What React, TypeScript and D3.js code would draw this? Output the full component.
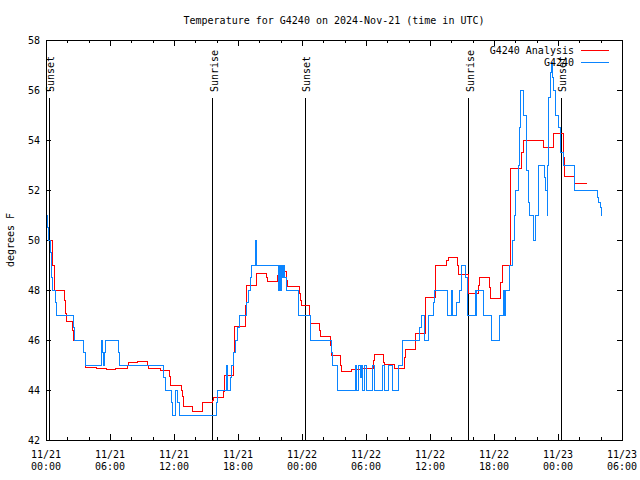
import React from "react";
import * as d3 from "d3";

// hours since 2024-11-21 00:00 UTC
const obsTimes = [
  0.05, 0.15, 0.25, 0.4, 0.5, 0.6, 0.85, 0.97, 2.6, 2.69, 3.5, 3.69,
  5.22, 5.31, 5.4, 5.5, 5.59, 6.78, 6.87, 11.0, 11.19, 11.72, 11.9, 12.1, 12.3, 12.5,
  16.0, 16.1, 16.88, 16.97, 17.31, 17.4, 17.6, 17.78, 17.97, 18.16, 18.81, 19.0, 19.16, 19.25,
  19.6, 19.78, 21.78, 21.87, 21.97, 22.06, 22.16, 22.25, 22.34, 22.5, 23.66, 24.81,
  26.78, 26.87, 27.34, 28.97, 29.15, 29.3, 29.45, 29.55, 29.7, 29.85, 30.0, 30.62, 30.75,
  31.5, 31.7, 32.09, 32.5, 33.0, 33.4, 35.06, 35.22, 35.47, 35.84, 36.31, 36.41, 37.66,
  37.97, 38.03, 38.1, 38.15, 38.53, 38.75, 38.94, 39.31, 39.53, 40.25, 40.31, 40.4, 41.0,
  41.81, 42.5, 42.9, 42.97, 43.05, 43.44, 43.69, 43.78, 43.88, 44.06, 44.28, 44.37, 44.53,
  44.75, 45.03, 45.19, 45.37, 45.69, 45.91, 46.16, 46.78, 46.87, 46.97, 47.03, 47.09, 47.25,
  47.41, 47.5, 47.62, 47.72, 48.03, 48.19, 48.28, 48.5, 49.53, 49.59, 51.72, 51.84, 51.94,
  52.09, 52.15,
];
const obsTemps = [
  51, 50.5, 50, 49.5, 48.5, 48, 47.5, 47, 46.5, 46, 45.5, 45,
  46, 45.5, 45, 45.5, 46, 45.5, 45, 44.5, 44, 43.5, 43, 44, 43.5, 43,
  43.5, 44, 45, 44, 44.5, 45, 45.5, 46, 46.5, 47, 47.5, 48, 48.5, 49,
  50, 49, 48, 49, 48, 49, 48.5, 49, 48.5, 48, 47, 46,
  45.5, 45, 44, 45, 44, 45, 44.5, 45, 44, 45, 44, 45, 44,
  45, 44, 45, 44, 45, 46, 46.5, 47, 46, 47, 47.5, 48, 47,
  48, 47, 48, 47, 47.5, 48, 49, 48.5, 47, 48, 47, 48, 47,
  46, 47, 48, 47, 48, 49, 49.5, 50, 51, 52, 53, 54.5, 56,
  55, 52.8, 51.5, 51, 50, 51, 53, 52.5, 52, 51, 53, 55.7, 56.7,
  57.1, 56.5, 56, 55, 54.5, 54, 53.5, 53, 52.5, 52, 51.7, 51.5, 51.3,
  51, 51,
];

const anaTimes = [
  0.3, 0.6, 0.78, 1.75, 1.84, 1.9, 2.5, 2.6, 3.5, 3.69, 4.75, 5.69, 6.56, 7.66, 7.75,
  8.59, 9.53, 9.62, 10.75, 11.59, 11.69, 12.72, 12.81, 12.87, 13.72, 14.66, 15.62, 15.72,
  16.63, 16.7, 16.78, 17.6, 17.69, 18.72, 18.81, 19.7, 19.78, 20.66, 20.75, 21.69, 21.78,
  21.87, 22.56, 22.62, 23.75, 23.85, 23.94, 24.69, 24.78, 25.62, 25.72, 26.66, 26.75,
  27.63, 27.72, 28.66, 29.5, 30.69, 30.75, 31.6, 31.69, 32.66, 33.6, 33.66, 34.66, 35.62,
  36.53, 37.59, 37.69, 38.56, 38.66, 39.59, 40.59, 40.62, 41.62, 41.69, 42.59, 42.78,
  43.55, 44.62, 44.72, 46.62, 47.62, 48.53, 48.62, 49.56, 50.69,
];
const anaTemps = [
  50, 49, 48, 47.6, 47.05, 46.75, 46.4, 46.0, 45.5, 44.91, 44.88, 44.83, 44.88, 45.0, 45.11,
  45.15, 45.0, 44.88, 44.79, 44.55, 44.19, 44.0, 43.75, 43.33, 43.16, 43.51, 43.6, 43.71,
  43.93, 44.4, 44.57, 45.5, 46.53, 47.39, 48.19, 48.5, 48.67, 48.5, 48.35, 48.6, 48.7,
  48.73, 48.4, 48.13, 47.87, 47.6, 47.39, 47.0, 46.67, 46.4, 46.13, 45.8, 45.4,
  45.0, 44.76, 44.83, 44.87, 45.2, 45.43, 45.1, 45.04, 44.85, 45.3, 45.63, 46.27, 47.71,
  48.99, 49.2, 49.31, 49.0, 48.63, 47.87, 48.2, 48.51, 48.1, 47.67, 48.3, 48.99,
  52.87, 53.5, 54.0, 53.69, 54.27, 53.3, 52.56, 52.27, 52.27,
];

const sunTimes = [0.28, 15.59, 24.28, 39.59, 48.24];
const sunLabels = ["Sunset", "Sunrise", "Sunset", "Sunrise", "Sunset"];

const xMajorTicks = [0, 6, 12, 18, 24, 30, 36, 42, 48, 54];
const tickDates = ["11/21", "11/21", "11/21", "11/21", "11/22", "11/22", "11/22", "11/22", "11/23", "11/23"];
const tickTimes = ["00:00", "06:00", "12:00", "18:00", "00:00", "06:00", "12:00", "18:00", "00:00", "06:00"];
const yTicks = [42, 44, 46, 48, 50, 52, 54, 56, 58];

const seriesNames = ["G4240 Analysis", "G4240"];
const seriesColors = ["#ff0000", "#0a84ff"];

const FONT = "'DejaVu Sans Mono', 'Liberation Mono', monospace";

export default function App() {
  const W = 640, H = 480;
  const L = 46, R = 622, T = 40, B = 440;
  const x = d3.scaleLinear().domain([0, 54]).range([L, R]);
  const y = d3.scaleLinear().domain([42, 58]).range([B, T]);

  const line = d3
    .line<[number, number]>()
    .x((d) => x(d[0]))
    .y((d) => y(d[1]))
    .curve(d3.curveStepAfter);

  const obs: [number, number][] = obsTimes.map((t, i) => [t, obsTemps[i]]);
  const ana: [number, number][] = anaTimes.map((t, i) => [t, anaTemps[i]]);

  const minorTicks = d3.range(0, 55, 2).filter((h) => h % 6 !== 0);
  const px = (v: number) => Math.round(v) + 0.5;

  return (
    <svg
      width={W}
      height={H}
      style={{ position: "absolute", left: 0, top: 0, background: "#fff" }}
      fontFamily={FONT}
      fontSize={10}
    >
      <rect x={0} y={0} width={W} height={H} fill="#fff" />
      <text x={(L + R) / 2} y={24} textAnchor="middle" fill="#000">
        Temperature for G4240 on 2024-Nov-21 (time in UTC)
      </text>

      <g shapeRendering="crispEdges" stroke="#000" strokeWidth={1}>
        {yTicks.map((v) => (
          <g key={"y" + v}>
            <line x1={L} x2={L + 5} y1={px(y(v))} y2={px(y(v))} />
            <line x1={R} x2={R - 5} y1={px(y(v))} y2={px(y(v))} />
          </g>
        ))}
        {xMajorTicks.map((h) => (
          <g key={"x" + h}>
            <line x1={px(x(h))} x2={px(x(h))} y1={B} y2={B - 6} />
            <line x1={px(x(h))} x2={px(x(h))} y1={T} y2={T + 6} />
          </g>
        ))}
        {minorTicks.map((h) => (
          <g key={"m" + h}>
            <line x1={px(x(h))} x2={px(x(h))} y1={B} y2={B - 3} />
            <line x1={px(x(h))} x2={px(x(h))} y1={T} y2={T + 3} />
          </g>
        ))}
        {sunTimes.map((t, i) => (
          <line key={"sl" + i} x1={px(x(t))} x2={px(x(t))} y1={98} y2={B} />
        ))}
      </g>

      {yTicks.map((v) => (
        <text key={"yt" + v} x={40} y={y(v)} dy="0.35em" textAnchor="end" fill="#000">
          {v}
        </text>
      ))}
      {xMajorTicks.map((h, i) => (
        <g key={"xt" + h}>
          <text x={x(h)} y={458} textAnchor="middle" fill="#000">
            {tickDates[i]}
          </text>
          <text x={x(h)} y={470} textAnchor="middle" fill="#000">
            {tickTimes[i]}
          </text>
        </g>
      ))}

      <text
        transform={`translate(14, ${(T + B) / 2}) rotate(-90)`}
        textAnchor="middle"
        fill="#000"
      >
        degrees F
      </text>

      {sunTimes.map((t, i) => (
        <text
          key={"st" + i}
          transform={`translate(${x(t) + 5.5}, 92) rotate(-90)`}
          textAnchor="start"
          fill="#000"
        >
          {sunLabels[i]}
        </text>
      ))}

      <path d={line(ana) || ""} fill="none" stroke={seriesColors[0]} strokeWidth={1} shapeRendering="crispEdges" />
      <path d={line(obs) || ""} fill="none" stroke={seriesColors[1]} strokeWidth={1} shapeRendering="crispEdges" />

      {seriesNames.map((n, i) => (
        <g key={"l" + i}>
          <text x={574} y={50 + i * 12.5} dy="0.35em" textAnchor="end" fill="#000">
            {n}
          </text>
          <line
            x1={581}
            x2={609}
            y1={px(49.7 + i * 12.5)}
            y2={px(49.7 + i * 12.5)}
            stroke={seriesColors[i]}
            strokeWidth={1}
            shapeRendering="crispEdges"
          />
        </g>
      ))}

      <rect
        x={L + 0.5}
        y={T + 0.5}
        width={R - L}
        height={B - T}
        fill="none"
        stroke="#000"
        strokeWidth={1}
        shapeRendering="crispEdges"
      />
    </svg>
  );
}
